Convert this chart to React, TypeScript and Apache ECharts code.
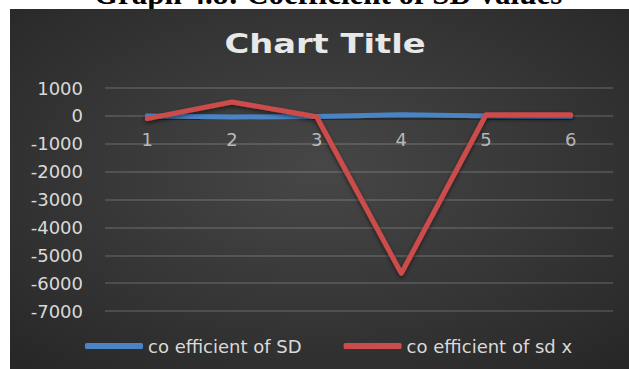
import React, { useEffect, useRef } from "react";
import * as echarts from "echarts";

const categories = ["1", "2", "3", "4", "5", "6"];
const sdValues = [0, -40, -20, 40, 0, -20];
const sdxValues = [-100, 500, -30, -5650, 40, 40];
const categoryLabelRow = [0, 0, 0, 0, 0, 0];
const yTicks = { min: -7000, max: 1000, interval: 1000 };

export default function App() {
  const ref = useRef<HTMLDivElement>(null);
  useEffect(() => {
    document.body.style.margin = "0";
    const chart = echarts.init(ref.current!, null, { renderer: "svg" });
    const axisText = "#d9d9d9";
    const font = "'DejaVu Sans', sans-serif";
    const lineBase = {
      width: 5,
      cap: "round",
      join: "round",
      shadowColor: "rgba(0,0,0,0.55)",
      shadowBlur: 4,
      shadowOffsetY: 2,
    };
    chart.setOption({
      animation: false,
      backgroundColor: "#ffffff",
      graphic: [
        {
          type: "text",
          x: 328,
          y: -7,
          z: -20,
          style: {
            text: "Graph 4.8: Coefficient of SD values",
            font: "bold 31px 'Liberation Serif', serif",
            fill: "#000",
            textAlign: "center",
            textVerticalAlign: "middle",
          },
        },
        {
          type: "rect",
          z: -10,
          shape: { x: 10, y: 9, width: 619, height: 360 },
          style: {
            fill: new echarts.graphic.RadialGradient(0.5, 0.45, 0.75, [
              { offset: 0, color: "#474747" },
              { offset: 1, color: "#262626" },
            ]),
          },
        },
        {
          type: "text",
          x: 325,
          y: 44,
          scaleX: 1.25,
          z: 5,
          style: {
            text: "Chart Title",
            font: "bold 27px 'DejaVu Sans', sans-serif",
            fill: "#e8e8e8",
            textAlign: "center",
            textVerticalAlign: "middle",
            shadowColor: "rgba(0,0,0,0.6)",
            shadowBlur: 3,
            shadowOffsetY: 1,
          },
        },
      ],
      legend: {
        bottom: 9,
        left: 80,
        itemWidth: 58,
        itemHeight: 6,
        itemGap: 42,
        icon: "roundRect",
        textStyle: { color: axisText, fontSize: 18, fontFamily: font },
        data: ["co efficient of SD", "co efficient of sd x"],
      },
      grid: { left: 105, right: 16, top: 88, bottom: 58, containLabel: false },
      xAxis: {
        type: "category",
        data: categories,
        boundaryGap: true,
        axisLine: { show: false },
        axisTick: { show: false },
        axisLabel: { show: false },
        splitLine: { show: false },
      },
      yAxis: {
        type: "value",
        min: yTicks.min,
        max: yTicks.max,
        interval: yTicks.interval,
        axisLine: { show: false },
        axisTick: { show: false },
        axisLabel: {
          color: axisText,
          fontSize: 18,
          fontFamily: font,
          margin: 22,
          formatter: (v: number) => String(v),
        },
        splitLine: { lineStyle: { color: "rgba(217,217,217,0.22)", width: 1.5 } },
      },
      series: [
        {
          name: "category labels",
          type: "scatter",
          data: categoryLabelRow,
          symbolSize: 0,
          silent: true,
          z: 1,
          label: {
            show: true,
            position: "bottom",
            distance: 15,
            color: axisText,
            fontSize: 18,
            fontFamily: font,
            formatter: (p: any) => categories[p.dataIndex],
          },
        },
        {
          name: "co efficient of SD",
          type: "line",
          data: sdValues,
          symbol: "none",
          color: "#4a84c4",
          z: 3,
          lineStyle: lineBase,
        },
        {
          name: "co efficient of sd x",
          type: "line",
          data: sdxValues,
          symbol: "none",
          color: "#cc4b4b",
          z: 4,
          lineStyle: lineBase,
        },
      ],
    });
    return () => chart.dispose();
  }, []);
  return <div ref={ref} style={{ width: 629, height: 369 }} />;
}
